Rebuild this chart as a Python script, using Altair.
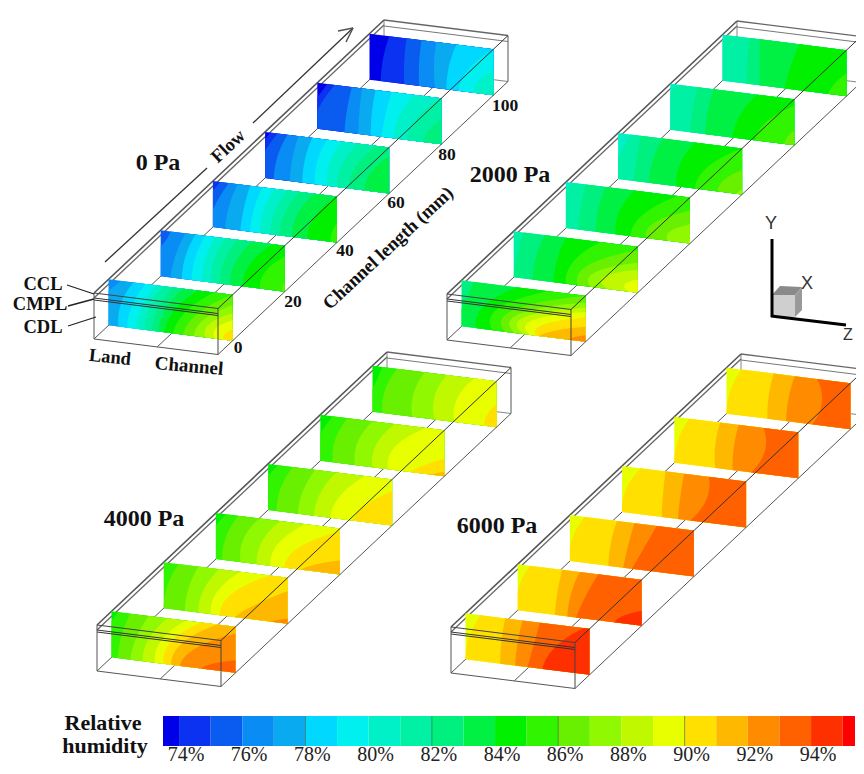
import altair as alt
import pandas as pd

alt.data_transformers.disable_max_rows()

# Relative humidity bands (%), one colour per band
BAND_VALUES = list(range(73, 96))
BAND_COLORS = ["#0000e8", "#0a32f0", "#0a5cf0", "#0a8cf5", "#0aaaf0", "#00d8ff", "#00f0f0", "#00f0c8",
               "#00f0a4", "#00f080", "#00f044", "#00f000", "#30f400", "#68f000", "#90f800", "#c0f800",
               "#e8ff00", "#ffe000", "#ffb800", "#ff8c00", "#ff6000", "#ff3000", "#ff0000"]
TICK_VALUES = [74, 76, 78, 80, 82, 84, 86, 88, 90, 92, 94]
SLICE_POSITIONS_MM = [5, 23, 41, 59, 77, 95]
LENGTH_TICKS = [0, 20, 40, 60, 80, 100]

# For each slice (front to back): lowest band, then for each following band edge the
# position across the slice at the top, middle and bottom of the slice.
FIELD_0PA = [
    (76, [(.10, -.1, -.3), (.20, .10, .08), (.30, .19, .15), (.38, .27, .22), (.44, .33, .29), (.52, .40, .35),
          (.60, .46, .40), (.72, .53, .45), (.85, .62, .52), (1.0, .72, .60), (1.2, .82, .69), (1.5, .92, .78),
          (1.9, 1.05, .86), (2.6, 1.3, .93)]),
    (75, [(.08, -.05, -.3), (.2, .12, .08), (.28, .2, .17), (.36, .28, .25), (.44, .36, .33), (.52, .43, .41),
          (.62, .51, .48), (.74, .6, .56), (.9, .72, .66), (1.15, .88, .8), (1.5, 1.1, .98)]),
    (74, [(.06, -.1, -.3), (.13, .02, -.05), (.2, .13, .1), (.3, .25, .22), (.4, .33, .3), (.5, .41, .38),
          (.6, .5, .46), (.7, .58, .54), (.82, .68, .64), (1.0, .82, .76), (1.25, 1.02, .95)]),
    (73, [(.04, -.1, -.3), (.1, -.02, -.1), (.18, .1, .07), (.27, .22, .2), (.38, .32, .3), (.5, .42, .4),
          (.62, .52, .5), (.75, .62, .58), (.9, .73, .68), (1.1, .88, .8), (1.4, 1.1, 1.0)]),
    (73, [(.08, -.05, -.2), (.14, .02, -.05), (.28, .24, .22), (.36, .34, .33), (.47, .44, .43), (.6, .55, .52),
          (.78, .66, .62), (1.0, .8, .72), (1.3, .98, .85), (1.7, 1.2, 1.0)]),
    (73, [(.16, .11, .09), (.3, .28, .28), (.42, .4, .4), (.54, .52, .53), (.7, .64, .62), (1.0, .8, .72),
          (1.4, .98, .84), (1.9, 1.25, .97)]),
]
FIELD_2000PA = [
    (82, [(.1, .02, -.05), (.45, .18, .12), (.7, .3, .25), (1.0, .42, .35), (1.3, .52, .43), (1.6, .62, .5),
          (1.9, .75, .55), (2.3, .95, .6), (3.0, 1.35, .62), (4.0, 1.8, .85)]),
    (81, [(.08, .03, 0), (.25, .18, .15), (.42, .35, .32), (.7, .48, .42), (1.1, .62, .52), (1.7, .8, .62),
          (2.5, 1.0, .76), (3.5, 1.4, .92)]),
    (80, [(.05, -.05, -.1), (.16, .12, .1), (.32, .26, .24), (.55, .43, .4), (.9, .62, .52), (1.4, .8, .65),
          (2.2, 1.1, .82), (3.0, 1.5, .98)]),
    (80, [(.1, 0, -.1), (.18, .15, .12), (.36, .28, .25), (.62, .5, .47), (1.0, .72, .62), (1.5, .98, .8),
          (2.0, 1.3, .95)]),
    (80, [(.06, -.1, -.2), (.22, .18, .16), (.35, .3, .28), (.7, .56, .5), (1.1, .8, .68), (1.6, 1.1, .92)]),
    (80, [(.05, -.1, -.2), (.22, .2, .2), (.3, .3, .3), (.62, .55, .5), (1.3, 1.0, .85)]),
]
FIELD_4000PA = [
    (84, [(.05, -.05, -.1), (.15, .08, .05), (.3, .2, .15), (.45, .3, .25), (.6, .4, .35), (.72, .48, .42),
          (.85, .57, .48), (1.15, .72, .55), (3.5, 1.5, .72)]),
    (85, [(.12, .03, 0), (.28, .2, .17), (.45, .32, .28), (.62, .43, .38), (.85, .55, .45), (1.25, .85, .57),
          (3.5, 1.8, .85)]),
    (84, [(.08, -.05, -.1), (.18, .08, .05), (.35, .22, .2), (.52, .37, .33), (.72, .5, .44), (1.05, .68, .55),
          (2.8, 1.35, .68)]),
    (84, [(.08, -.05, -.1), (.2, .1, .07), (.38, .28, .24), (.55, .42, .37), (.78, .58, .5), (1.2, .85, .68),
          (3.0, 1.8, 1.05)]),
    (84, [(.1, -.02, -.1), (.22, .12, .1), (.42, .3, .28), (.6, .45, .42), (.85, .6, .55), (1.8, 1.12, .72),
          (3.5, 1.8, .88)]),
    (84, [(.08, 0, -.1), (.2, .1, .08), (.42, .33, .32), (.6, .5, .5), (.82, .68, .66), (1.3, 1.0, .9)]),
]
FIELD_6000PA = [
    (89, [(.12, .03, 0), (.32, .29, .28), (.46, .42, .4), (.6, .55, .5), (.95, .72, .62)]),
    (89, [(.1, .01, 0), (.36, .32, .3), (.5, .43, .4), (.65, .55, .47), (2.5, 1.25, .78)]),
    (89, [(.12, .02, 0), (.38, .33, .31), (.52, .47, .43), (.7, .6, .5)]),
    (89, [(.15, .03, 0), (.35, .33, .32), (.5, .47, .45), (.7, .68, .55)]),
    (89, [(.12, .03, 0), (.37, .33, .33), (.52, .48, .47), (.72, .73, .62)]),
    (89, [(.12, .03, 0), (.38, .34, .33), (.55, .5, .48), (.73, .77, .69)]),
]
PANEL_NAMES = ["0 Pa", "2000 Pa", "4000 Pa", "6000 Pa"]
PANEL_FIELDS = [FIELD_0PA, FIELD_2000PA, FIELD_4000PA, FIELD_6000PA]

# ---- drawing geometry (pixel frame of the picture) ----
PANEL_ORIGINS = [(94, 293), (447, 294), (97, 625), (451, 627)]
PANEL_LABEL_POS = [(158, 163), (510, 175), (144, 519), (497, 526)]
LEN_VEC = (2.90, -2.73)   # per mm
WID_VEC = (124, 15.5)
HEI = 46
COLOR_OF = dict(zip(BAND_VALUES, BAND_COLORS))


def clip(poly, inside, cross):
    out = []
    for i, p in enumerate(poly):
        q = poly[i - 1]
        if inside(p):
            if not inside(q):
                out.append(cross(q, p))
            out.append(p)
        elif inside(q):
            out.append(cross(q, p))
    return out


def clip_unit(poly):
    def sx(v):
        return lambda a, b: (v, a[1] + (b[1] - a[1]) * (v - a[0]) / (b[0] - a[0]))
    poly = clip(poly, lambda p: p[0] >= 0, sx(0))
    if poly:
        poly = clip(poly, lambda p: p[0] <= 1, sx(1))
    return poly


def curve(a, b, c):
    # smooth contour through the three read positions
    pts = []
    for k in range(13):
        t = k / 12
        s = a * (1 - t) * (1 - 2 * t) + b * 4 * t * (1 - t) + c * t * (2 * t - 1)
        pts.append((s, t))
    return pts


poly_rows, poly_id = [], 0


def add_poly(points, color):
    global poly_id
    poly_id += 1
    pts = list(points) + [points[0]]
    for i, (x, y) in enumerate(pts):
        poly_rows.append({"x": x, "y": y, "i": i, "id": poly_id, "c": color})


for origin, field in zip(PANEL_ORIGINS, PANEL_FIELDS):
    for mm, (base, edges) in zip(SLICE_POSITIONS_MM, field):
        ox = origin[0] + mm * LEN_VEC[0]
        oy = origin[1] + mm * LEN_VEC[1]

        def scr(p):
            return (ox + p[0] * WID_VEC[0], oy + p[0] * WID_VEC[1] + p[1] * HEI)

        add_poly([scr(p) for p in [(0, 0), (1, 0), (1, 1), (0, 1)]], COLOR_OF[base])
        for n, tri in enumerate(edges):
            poly = clip_unit(curve(*tri) + [(9, 1), (9, 0)])
            if len(poly) > 2:
                add_poly([scr(p) for p in poly], COLOR_OF[base + n + 1])

# axes triad cube
add_poly([(772, 295), (795, 295), (795, 317), (772, 317)], "#cfcfcf")
add_poly([(772, 295), (780, 286), (802, 287), (795, 295)], "#8a8a8a")
add_poly([(795, 295), (802, 287), (802, 310), (795, 317)], "#9a9a9a")
polys = pd.DataFrame(poly_rows)

back, front = [], []


def seg(store, a, b, w=1.0, c="#555555"):
    store.append({"x": a[0], "y": a[1], "x2": b[0], "y2": b[1], "w": w, "c": c})


for ox, oy in PANEL_ORIGINS:
    lx, ly = LEN_VEC[0] * 100, LEN_VEC[1] * 100
    wx, wy = WID_VEC
    def P(l=0, w=0, h=0, d=0):
        return (ox + l * lx + w * wx, oy + l * ly + w * wy + h * HEI + d)
    # behind the slices
    seg(back, P(h=1), P(l=1, h=1))
    seg(back, P(w=.51, h=1), P(l=1, w=.51, h=1))
    seg(back, P(l=1, h=1), P(l=1, w=1, h=1), .9, "#777777")
    seg(back, P(l=1), P(l=1, h=1), .9, "#777777")
    seg(back, P(l=1, w=1), P(l=1, w=1, h=1))
    seg(back, P(l=1), P(l=1, w=1), 1.3, "#666666")
    seg(back, P(l=1, d=6), P(l=1, w=1, d=6), 1.0, "#777777")
    seg(back, P(), P(l=1), 1.6, "#555555")
    seg(back, P(d=5), P(l=1, d=5), 1.3, "#666666")
    # over the slices
    seg(front, P(), P(w=1), 1.0, "#444444")
    seg(front, P(d=5), P(w=1, d=5), 1.0, "#333333")
    seg(front, P(d=7), P(w=1, d=7), 1.0, "#333333")
    seg(front, P(), P(h=1))
    seg(front, P(w=1), P(w=1, h=1), 1.0, "#444444")
    seg(front, P(h=1), P(w=1, h=1))
    seg(front, P(w=1), P(l=1, w=1), 1.0, "#333333")
    seg(front, P(w=1, h=1), P(l=1, w=1, h=1), 1.0, "#555555")

# flow arrow
seg(front, (105, 262), (207, 168), 1.3, "#333333")
seg(front, (253, 123), (353, 28), 1.3, "#333333")
seg(front, (353, 28), (338, 31), 1.6, "#555555")
seg(front, (353, 28), (346, 42), 1.6, "#555555")
# layer leaders
seg(front, (67, 285), (94, 294), 1.3, "#222222")
seg(front, (68, 306), (94, 299), 1.3, "#222222")
seg(front, (68, 326), (96, 317), 1.3, "#222222")
# triad
seg(front, (772, 239), (772, 317), 3, "#000000")
seg(front, (771, 316), (846, 325), 3, "#000000")

# colour bar
BAR_X0, BAR_X1 = 163, 855
BAR_TOP, BAR_BOTTOM = 716, 746


def bar_x(v):
    return 186 + 31.6 * (v - 74)


bar_rows = []
for v, col in zip(BAND_VALUES, BAND_COLORS):
    bar_rows.append({"x": max(BAR_X0, bar_x(v - .22)), "x2": min(BAR_X1, bar_x(v + .78)),
                     "y": BAR_TOP, "y2": BAR_BOTTOM, "c": col})
bars = pd.DataFrame(bar_rows)
for v in [77.78, 81.78, 85.78, 89.78]:
    seg(front, (bar_x(v), BAR_TOP), (bar_x(v), BAR_BOTTOM), .6, "#335533")

texts = []


def txt(s, x, y, size, angle=0, font="Liberation Serif", weight="bold", color="#111111"):
    texts.append({"t": s, "x": x, "y": y, "s": size, "a": angle, "f": font, "w": weight, "c": color})


for name, (x, y) in zip(PANEL_NAMES, PANEL_LABEL_POS):
    txt(name, x, y, 24)
for v, (x, y) in zip(LENGTH_TICKS, [(238, 348), (293, 302), (345, 251), (396, 203), (447, 155), (505, 106)]):
    txt(str(v), x, y, 17.5)
txt("Channel length (mm)", 388, 248, 18.7, 317)
txt("Flow", 228, 146, 18.5, 317)
txt("Land", 110, 357, 18.5, 6)
txt("Channel", 189, 366, 19, 5)
txt("CCL", 43, 284, 18.5)
txt("CMPL", 40, 304, 18.5)
txt("CDL", 43, 327, 18.5)
txt("Relative", 103, 723, 22)
txt("humidity", 105, 746, 22)
for v in TICK_VALUES:
    txt(f"{v}%", bar_x(v), 755, 20, 0, "Liberation Serif", "normal", "#222222")
txt("Y", 771, 224, 18, 0, "Liberation Sans", "normal", "#333333")
txt("X", 807, 284, 18, 0, "Liberation Sans", "normal", "#333333")
txt("Z", 848, 335, 16, 0, "Liberation Sans", "normal", "#333333")

X = alt.X("x:Q", scale=alt.Scale(domain=[8, 856], nice=False, zero=False), axis=None)
Y = alt.Y("y:Q", scale=alt.Scale(domain=[766, 8], nice=False, zero=False), axis=None)
C = alt.Color("c:N", scale=None, legend=None)


def segments(rows):
    return alt.Chart(pd.DataFrame(rows)).mark_rule().encode(
        x=X, y=Y, x2="x2:Q", y2="y2:Q", color=C, strokeWidth=alt.StrokeWidth("w:Q", scale=None))


slices = alt.Chart(polys).mark_line(filled=True, strokeWidth=0).encode(
    x=X, y=Y, order="i:Q", detail="id:N", color=C)
bar = alt.Chart(bars).mark_rect().encode(x=X, y=Y, x2="x2:Q", y2="y2:Q", color=C)

tdf = pd.DataFrame(texts)
text_layers = []
for (font, weight), sub in tdf.groupby(["f", "w"]):
    text_layers.append(alt.Chart(sub).mark_text(font=font, fontWeight=weight, align="center", baseline="middle").encode(
        x=X, y=Y, text="t:N", color=C,
        size=alt.Size("s:Q", scale=None, legend=None),
        angle=alt.Angle("a:Q", scale=None)))

chart = alt.layer(segments(back), slices, bar, segments(front), *text_layers).properties(
    width=848, height=758, padding=0, autosize=alt.AutoSizeParams(type="none"),
    background="white").configure_view(stroke=None)

chart.save("out.html", embed_options={"renderer": "svg", "actions": False})
